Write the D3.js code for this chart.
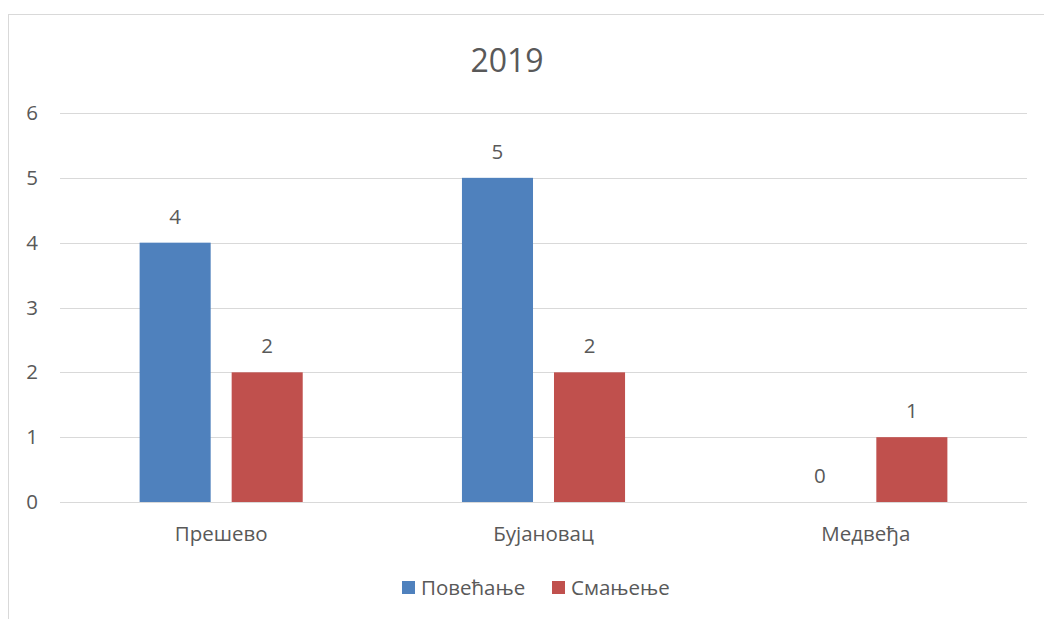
<!DOCTYPE html>
<html>
<head>
<meta charset="utf-8">
<script src="https://cdn.jsdelivr.net/npm/d3@7"></script>
<style>
  body { margin: 0; background: #fff; }
  svg text { font-family: "Open Sans", sans-serif; fill: #595959; }
</style>
</head>
<body>
<div id="chart"></div>
<script>
var categories = ["Прешево", "Бујановац", "Медвеђа"];
var seriesNames = ["Повећање", "Смањење"];
var increase = [4, 5, 0];
var decrease = [2, 2, 1];
var yTicks = [0, 1, 2, 3, 4, 5, 6];
var title = "2019";

var width = 1044;
var height = 619;
var colors = ["#4f81bd", "#c0504d"];
var labelSize = "20.5px";

var svg = d3.select("#chart")
  .append("svg")
  .attr("width", width)
  .attr("height", height);

// chart frame (clipped at the right and bottom)
svg.append("rect")
  .attr("x", 8.5)
  .attr("y", 14.5)
  .attr("width", width + 20)
  .attr("height", height + 20)
  .style("fill", "none")
  .style("stroke", "#d9d9d9")
  .style("stroke-width", 1);

var plotLeft = 60, plotRight = 1027, plotTop = 113, plotBottom = 502;

var x = d3.scaleBand().range([plotLeft, plotRight]).domain(categories);
var xs = d3.scaleBand().domain(seriesNames).range([0, x.bandwidth()]).paddingInner(0.228).paddingOuter(0.865);
var y = d3.scaleLinear().domain([0, 6]).range([plotBottom, plotTop]);

// gridlines
svg.append("g")
  .selectAll("line")
  .data(yTicks)
  .enter()
  .append("line")
  .attr("x1", plotLeft)
  .attr("x2", plotRight)
  .attr("y1", function (d) { return Math.round(y(d)) + 0.5; })
  .attr("y2", function (d) { return Math.round(y(d)) + 0.5; })
  .style("stroke", "#d9d9d9")
  .style("stroke-width", 1);

// y axis labels
var yAxis = d3.axisLeft(y).tickValues(yTicks).tickFormat(d3.format("d")).tickSize(0).tickPadding(0);
var yg = svg.append("g").attr("transform", "translate(38,0)").call(yAxis);
yg.select(".domain").remove();
yg.selectAll("text").style("font-size", labelSize).attr("fill", "#595959");

// x axis labels
var xAxis = d3.axisBottom(x).tickSize(0).tickPadding(0);
var xg = svg.append("g").attr("transform", "translate(0,526)").call(xAxis);
xg.select(".domain").remove();
xg.selectAll("text").style("font-size", labelSize).attr("fill", "#595959");

var data = [];
categories.forEach(function (c, i) {
  data.push({ cat: c, series: seriesNames[0], value: increase[i], color: colors[0] });
  data.push({ cat: c, series: seriesNames[1], value: decrease[i], color: colors[1] });
});

svg.append("g")
  .selectAll("rect")
  .data(data)
  .enter()
  .append("rect")
  .attr("x", function (d) { return x(d.cat) + xs(d.series); })
  .attr("y", function (d) { return y(d.value); })
  .attr("width", xs.bandwidth())
  .attr("height", function (d) { return y(0) - y(d.value); })
  .style("fill", function (d) { return d.color; });

// data labels
svg.append("g")
  .selectAll("text")
  .data(data)
  .enter()
  .append("text")
  .attr("x", function (d) { return x(d.cat) + xs(d.series) + xs.bandwidth() / 2; })
  .attr("y", function (d) { return y(d.value) - 19; })
  .attr("text-anchor", "middle")
  .style("font-size", labelSize)
  .text(function (d) { return d.value; });

// title
svg.append("text")
  .attr("x", 507)
  .attr("y", 72)
  .attr("text-anchor", "middle")
  .style("font-size", "32px")
  .text(title);

// legend
var legend = svg.append("g");
var legendX = [402, 552];
seriesNames.forEach(function (s, i) {
  legend.append("rect")
    .attr("x", legendX[i])
    .attr("y", 581)
    .attr("width", 13)
    .attr("height", 13)
    .style("fill", colors[i]);
  legend.append("text")
    .attr("x", legendX[i] + 19)
    .attr("y", 595)
    .style("font-size", labelSize)
    .text(s);
});
</script>
</body>
</html>
